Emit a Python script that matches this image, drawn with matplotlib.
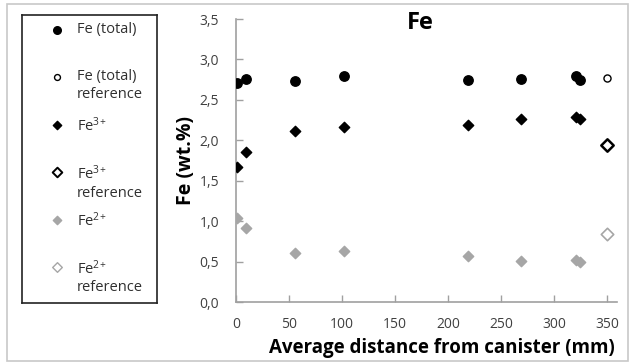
import matplotlib
matplotlib.use('Agg')
import matplotlib.pyplot as plt
from matplotlib.ticker import FuncFormatter
from matplotlib.patches import Rectangle

plt.rcParams['font.family'] = ['Open Sans', 'DejaVu Sans']
plt.rcParams['mathtext.fontset'] = 'custom'
plt.rcParams['mathtext.rm'] = 'Open Sans'
plt.rcParams['mathtext.it'] = 'Open Sans'

# data
dist = [0.6, 9.7, 56, 102, 219, 269, 320, 324.5]
fe_total = [2.71, 2.76, 2.73, 2.79, 2.75, 2.76, 2.80, 2.74]
fe3 = [1.67, 1.85, 2.12, 2.17, 2.19, 2.26, 2.29, 2.26]
fe2 = [1.04, 0.91, 0.61, 0.63, 0.57, 0.51, 0.52, 0.49]

ref_dist = [350]
fe_total_ref = [2.77]
fe3_ref = [1.94]
fe2_ref = [0.84]

x_ticks = [0, 50, 100, 150, 200, 250, 300, 350]
y_ticks = [0.0, 0.5, 1.0, 1.5, 2.0, 2.5, 3.0, 3.5]

W, H = 634, 364
grey = '#a6a6a6'
axis_col = '#a0a0a0'

fig = plt.figure(figsize=(W / 100, H / 100), dpi=100)

# outer frame
fig.patches.append(Rectangle((7 / W, 3 / H), 621 / W, 357 / H, transform=fig.transFigure,
                             fill=False, edgecolor='#c8c8c8', linewidth=1.2))

def frac(x0, y0, x1, y1):
    return [x0 / W, 1 - y1 / H, (x1 - x0) / W, (y1 - y0) / H]

ax = fig.add_axes(frac(236, 19, 617, 302))
ax.scatter(dist, fe_total, s=46, marker='o', color='black', zorder=3)
ax.scatter(ref_dist, fe_total_ref, s=26, marker='o', facecolor='white', edgecolor='black', linewidth=1.0, zorder=3)
ax.scatter(dist, fe3, s=28, marker='D', color='black', zorder=3)
ax.scatter(ref_dist, fe3_ref, s=40, marker='D', facecolor='white', edgecolor='black', linewidth=1.8, zorder=3)
ax.scatter(dist, fe2, s=28, marker='D', color=grey, zorder=3)
ax.scatter(ref_dist, fe2_ref, s=40, marker='D', facecolor='white', edgecolor=grey, linewidth=1.2, zorder=3)

ax.set_xlim(0, 359)
ax.set_ylim(0, 3.5)
ax.set_xticks(x_ticks)
ax.set_yticks(y_ticks)
ax.yaxis.set_major_formatter(FuncFormatter(lambda v, p: f'{v:.1f}'.replace('.', ',')))
for s in ['top', 'right']:
    ax.spines[s].set_visible(False)
for s in ['left', 'bottom']:
    ax.spines[s].set_color(axis_col)
    ax.spines[s].set_linewidth(1.2)
ax.tick_params(direction='in', length=5, width=1.0, color=axis_col, labelsize=10, labelcolor='#404040')
ax.tick_params(axis='x', pad=11)
ax.tick_params(axis='y', pad=12)

fig.text(420 / W, 1 - 23 / H, 'Fe', fontsize=17, fontweight='bold', ha='center', va='center')
ax.set_xlabel('Average distance from canister (mm)', fontsize=13.5, fontweight='bold', labelpad=4, x=0.54)
ax.set_ylabel('Fe (wt.%)', fontsize=14, fontweight='bold', labelpad=3)

# legend panel drawn by hand, Excel style
leg = fig.add_axes(frac(22, 15, 157, 303))
leg.set_xlim(22, 157)
leg.set_ylim(303, 15)
leg.set_xticks([])
leg.set_yticks([])
for s in leg.spines.values():
    s.set_color('#222222')
    s.set_linewidth(1.2)

entries = [
    ('Fe (total)', dict(marker='o', s=30, color='black')),
    ('Fe (total)\nreference', dict(marker='o', s=18, facecolor='white', edgecolor='black', linewidth=1.0)),
    ('Fe$^{3\\!+}$', dict(marker='D', s=18, color='black')),
    ('Fe$^{3\\!+}$\nreference', dict(marker='D', s=24, facecolor='white', edgecolor='black', linewidth=1.4)),
    ('Fe$^{2\\!+}$', dict(marker='D', s=18, color=grey)),
    ('Fe$^{2\\!+}$\nreference', dict(marker='D', s=24, facecolor='white', edgecolor=grey, linewidth=1.0)),
]
for i, (label, style) in enumerate(entries):
    y = 30 + i * 47.4
    leg.scatter([57], [y], **style)
    leg.text(77, y - 8, label, fontsize=10.5, va='top', ha='left', color='#303030', linespacing=1.25)

fig.savefig('out.png', dpi=100)
